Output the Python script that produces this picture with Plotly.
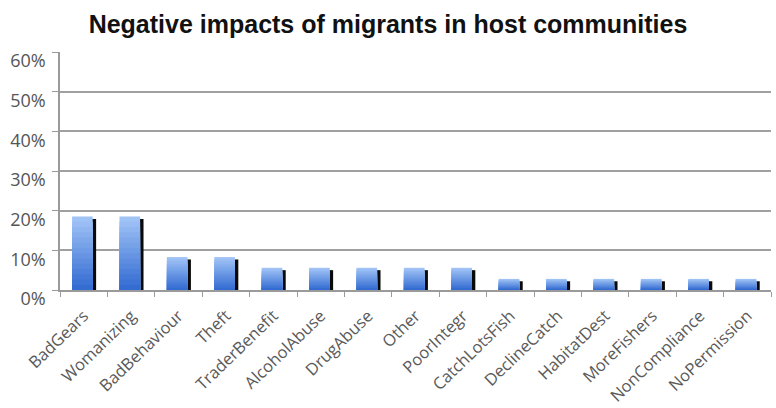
import plotly.graph_objects as go

categories = ["BadGears", "Womanizing", "BadBehaviour", "Theft", "TraderBenefit",
              "AlcoholAbuse", "DrugAbuse", "Other", "PoorIntegr", "CatchLotsFish",
              "DeclineCatch", "HabitatDest", "MoreFishers", "NonCompliance", "NoPermission"]
values = [0.185, 0.185, 0.083, 0.083, 0.056, 0.056, 0.056, 0.056, 0.056,
          0.028, 0.028, 0.028, 0.028, 0.028, 0.028]
y_ticks = [0, 0.1, 0.2, 0.3, 0.4, 0.5, 0.6]

fig = go.Figure()

# dark side (3D shadow) of each bar
shadow_drop = 0.006
fig.add_trace(go.Bar(
    x=categories, y=[v - shadow_drop for v in values],
    offset=0.0, width=0.262,
    marker=dict(color="#0a0a0a", line=dict(width=0)),
    hoverinfo="skip", showlegend=False))

# vertical gradient built from stacked overlaid layers
top_rgb = (160, 195, 246)
bot_rgb = (52, 108, 210)
N = 14
for i in range(N):
    t = i / (N - 1)
    col = "rgb(%d,%d,%d)" % tuple(round(a + (b - a) * t) for a, b in zip(top_rgb, bot_rgb))
    frac = 1 - i / N
    fig.add_trace(go.Bar(
        x=categories, y=[v * frac for v in values],
        offset=-0.245, width=0.435,
        marker=dict(color=col, line=dict(width=0)),
        hovertemplate="%{x}: %{y:.1%}<extra></extra>" if i == 0 else None,
        hoverinfo=None if i == 0 else "skip",
        showlegend=False))

fig.update_layout(
    width=776, height=408,
    margin=dict(l=60, r=5, t=52, b=118),
    paper_bgcolor="white", plot_bgcolor="white",
    barmode="overlay",
    title=dict(text="<b>Negative impacts of migrants in host communities</b>",
               x=0.5, xanchor="center", y=0.94, yanchor="middle",
               font=dict(family="Liberation Sans, Arial, sans-serif", size=25, color="#111111")),
    font=dict(family="Open Sans, sans-serif", color="#555555"),
)

fig.update_xaxes(
    type="category", tickangle=-44, automargin=False,
    tickfont=dict(family="Open Sans, sans-serif", size=16.5, color="#5a5a5a"),
    showline=True, linecolor="#9a9a9a", linewidth=1.5,
    ticks="outside", ticklen=5, tickcolor="#9a9a9a", tickson="boundaries",
    showgrid=False, zeroline=False, ticklabelstandoff=8,
)
fig.update_yaxes(
    range=[0, 0.6], tickvals=y_ticks, tickformat=".0%", automargin=False,
    tickfont=dict(family="Open Sans, sans-serif", size=18, color="#555555"),
    showgrid=True, gridcolor="#a0a0a0", gridwidth=1.5,
    showline=True, linecolor="#9a9a9a", linewidth=1.5,
    ticks="outside", ticklen=6, tickcolor="#9a9a9a",
    zeroline=False, ticklabelstandoff=3, ticklabelshift=9,
)

fig.write_html("out.html")
